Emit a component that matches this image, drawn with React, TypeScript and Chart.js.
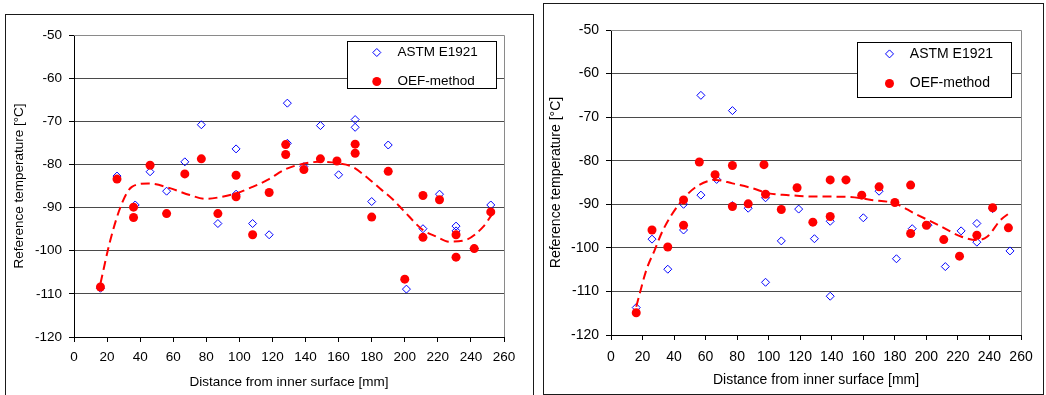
import React, { useEffect, useRef } from 'react';
import { Chart, registerables } from 'chart.js';

Chart.register(...registerables);

const FONT = '"Liberation Sans", Arial, Helvetica, sans-serif';
const BLUE = '#0000ff';
const RED = '#ff0000';

// Axis ticks
const xTickValues = [0, 20, 40, 60, 80, 100, 120, 140, 160, 180, 200, 220, 240, 260];
const yTickValues = [-120, -110, -100, -90, -80, -70, -60, -50];
const xTitle = 'Distance from inner surface [mm]';
const yTitle = 'Reference temperature [°C]';
const legendLabels = ['ASTM E1921', 'OEF-method'];

// ---- Left panel data ----
const leftAstmX = [16, 26, 37, 46, 56, 67, 77, 87, 98, 98, 108, 118, 129, 129, 139, 149, 160, 170, 170, 180, 190, 201, 211, 221, 231, 231, 242, 252];
const leftAstmY = [-108.7, -82.7, -89.4, -81.7, -86.2, -79.4, -70.8, -93.7, -76.4, -86.9, -93.7, -96.3, -65.8, -75.1, -80.5, -71.0, -82.4, -69.6, -71.4, -88.6, -75.5, -108.9, -94.9, -86.9, -94.3, -95.4, -99.5, -89.4];

const leftOefX = [16, 26, 36, 36, 46, 56, 67, 77, 87, 98, 98, 108, 118, 128, 128, 139, 149, 159, 170, 170, 180, 190, 200, 211, 211, 221, 231, 231, 242, 252];
const leftOefY = [-108.4, -83.4, -89.9, -92.3, -80.2, -91.4, -82.2, -78.7, -91.4, -82.5, -87.5, -96.3, -86.5, -75.4, -77.7, -81.2, -78.7, -79.2, -75.3, -77.4, -92.2, -81.6, -106.6, -87.2, -96.9, -88.2, -96.3, -101.5, -99.5, -91.0];

const leftTrendX = [16, 22, 29, 35, 45, 58, 70, 80, 88, 98, 108, 117, 128, 138, 148, 159, 168, 179, 186, 193, 199, 211, 219, 227, 237, 247.5, 252.5];
const leftTrendY = [-107.6, -97.5, -89.0, -85.2, -84.4, -85.5, -87.1, -88.0, -87.6, -86.7, -85.2, -83.6, -81.1, -79.9, -79.4, -79.7, -80.5, -83.6, -85.9, -88.2, -90.6, -95.2, -96.7, -97.9, -97.5, -94.4, -91.7];

// ---- Right panel data ----
const rightAstmX = [16, 26, 36, 46, 46, 57, 57, 67, 77, 77, 87, 98, 98, 108, 119, 129, 139, 139, 149, 160, 170, 181, 191, 201, 212, 222, 232, 232, 242, 253];
const rightAstmY = [-113.7, -98.0, -104.9, -90.0, -95.9, -65.0, -87.9, -84.3, -68.5, -90.3, -90.9, -88.5, -107.9, -98.4, -91.1, -97.9, -93.9, -111.1, -84.4, -93.1, -87.0, -102.5, -95.6, -94.8, -104.3, -96.1, -94.4, -98.7, -91.0, -100.7];

const rightOefX = [16, 26, 36, 46, 46, 56, 66, 77, 77, 87, 97, 98, 108, 118, 128, 139, 139, 149, 159, 170, 180, 190, 190, 200, 211, 221, 232, 242, 252];
const rightOefY = [-114.9, -95.9, -99.8, -89.0, -94.8, -80.3, -83.2, -81.1, -90.5, -89.9, -80.9, -87.7, -91.2, -86.2, -94.1, -84.4, -92.8, -84.4, -87.9, -86.0, -89.6, -85.6, -96.7, -94.8, -98.1, -101.9, -97.1, -90.8, -95.4];

const rightTrendX = [16, 22.5, 27.7, 33, 43.5, 54, 66.5, 77, 89.6, 100, 112.7, 125.3, 150.5, 165.2, 180, 192.5, 209.3, 221.9, 232.4, 238.7, 247, 252.3];
const rightTrendY = [-113.5, -105.0, -100.5, -95.9, -89.8, -86.0, -84.4, -85.2, -86.3, -87.5, -87.9, -88.2, -88.3, -89.0, -89.8, -92.1, -95.1, -97.4, -98.2, -97.4, -93.6, -92.1];

const pts = (xs: number[], ys: number[]) => xs.map((x, i) => ({ x, y: ys[i] }));

function drawDiamond(ctx: CanvasRenderingContext2D, x: number, y: number, r: number) {
  ctx.beginPath();
  ctx.moveTo(x - r, y);
  ctx.lineTo(x, y - r);
  ctx.lineTo(x + r, y);
  ctx.lineTo(x, y + r);
  ctx.closePath();
  ctx.strokeStyle = BLUE;
  ctx.lineWidth = 1;
  ctx.stroke();
}

const frameLegendPlugin = {
  id: 'frameLegend',
  afterDraw(chart: any, _args: any, opts: any) {
    const { ctx, chartArea: a } = chart;
    ctx.save();
    // gray plot-area frame (top + right)
    ctx.strokeStyle = '#8a8a8a';
    ctx.lineWidth = 1;
    const r = Math.round(a.right) + 0.5;
    const t = Math.round(a.top) + 0.5;
    ctx.beginPath();
    ctx.moveTo(a.left, t);
    ctx.lineTo(r, t);
    ctx.lineTo(r, a.bottom);
    ctx.stroke();

    const lg = opts.legend;
    const bx = Math.round(a.right - lg.right - lg.w) + 0.5;
    const by = Math.round(a.top + lg.top) + 0.5;
    ctx.fillStyle = '#ffffff';
    ctx.fillRect(bx, by, lg.w, lg.h);
    ctx.strokeStyle = '#000000';
    ctx.lineWidth = 1;
    ctx.strokeRect(bx, by, lg.w, lg.h);

    drawDiamond(ctx, bx + lg.mx, by + lg.y1, 4);
    ctx.beginPath();
    ctx.arc(bx + lg.mx, by + lg.y2, 4.5, 0, Math.PI * 2);
    ctx.fillStyle = RED;
    ctx.fill();

    ctx.fillStyle = '#000';
    ctx.font = `${lg.fs}px ${FONT}`;
    ctx.textBaseline = 'middle';
    ctx.textAlign = 'left';
    ctx.fillText(legendLabels[0], bx + lg.tx, by + lg.y1);
    ctx.fillText(legendLabels[1], bx + lg.tx, by + lg.y2);
    ctx.restore();
  },
};

type PanelCfg = {
  astm: { x: number; y: number }[];
  oef: { x: number; y: number }[];
  trend: { x: number; y: number }[];
  width: number;
  height: number;
  fs: number;
  padTop: number;
  padRight: number;
  yWidth: number;
  yTitlePad: number;
  xHeight: number;
  xTitlePad: number;
  xTickPad: number;
  legend: any;
};

function ChartPanel({ cfg, style }: { cfg: PanelCfg; style: React.CSSProperties }) {
  const ref = useRef<HTMLCanvasElement | null>(null);
  useEffect(() => {
    if (!ref.current) return;
    const font = { family: FONT, size: cfg.fs, lineHeight: 1.2 };
    const chart = new Chart(ref.current, {
      type: 'scatter',
      data: {
        datasets: [
          {
            label: 'trend',
            data: cfg.trend,
            showLine: true,
            pointRadius: 0,
            borderColor: RED,
            borderWidth: 2,
            borderDash: [9, 5],
            cubicInterpolationMode: 'monotone',
            order: 0,
          } as any,
          {
            label: legendLabels[1],
            data: cfg.oef,
            pointStyle: 'circle',
            pointRadius: 4.5,
            pointBackgroundColor: RED,
            pointBorderColor: RED,
            pointBorderWidth: 0,
            order: 1,
          },
          {
            label: legendLabels[0],
            data: cfg.astm,
            pointStyle: 'rectRot',
            pointRadius: 4,
            pointBackgroundColor: 'rgba(0,0,0,0)',
            pointBorderColor: BLUE,
            pointBorderWidth: 1,
            order: 2,
          },
        ],
      },
      options: {
        animation: false,
        responsive: false,
        devicePixelRatio: 1,
        layout: { padding: { top: cfg.padTop, right: cfg.padRight, left: 0, bottom: 0 } },
        plugins: {
          legend: { display: false },
          tooltip: { enabled: false },
          frameLegend: { legend: cfg.legend },
        } as any,
        scales: {
          x: {
            type: 'linear',
            min: 0,
            max: 260,
            afterBuildTicks: (s: any) => {
              s.ticks = xTickValues.map((v) => ({ value: v }));
            },
            afterFit: (s: any) => {
              s.height = cfg.xHeight;
            },
            ticks: { color: '#000', font, padding: cfg.xTickPad, maxRotation: 0, autoSkip: false },
            grid: { drawOnChartArea: false, drawTicks: true, tickLength: 5, tickColor: '#000', color: '#000' },
            border: { display: true, color: '#000', width: 1 },
            title: { display: true, text: xTitle, color: '#000', font, padding: { top: 0, bottom: cfg.xTitlePad } },
          },
          y: {
            type: 'linear',
            min: -120,
            max: -50,
            afterBuildTicks: (s: any) => {
              s.ticks = yTickValues.map((v) => ({ value: v }));
            },
            afterFit: (s: any) => {
              s.width = cfg.yWidth;
            },
            ticks: { color: '#000', font, padding: 7, autoSkip: false },
            grid: { drawOnChartArea: true, drawTicks: true, tickLength: 5, tickColor: '#000', color: '#4a4a4a', lineWidth: 1 },
            border: { display: true, color: '#000', width: 1 },
            title: { display: true, text: yTitle, color: '#000', font, padding: { top: cfg.yTitlePad, bottom: 0 } },
          },
        },
      },
      plugins: [frameLegendPlugin],
    } as any);
    return () => chart.destroy();
  }, [cfg]);
  return <canvas ref={ref} width={cfg.width} height={cfg.height} style={{ position: 'absolute', ...style, width: cfg.width, height: cfg.height }} />;
}

const leftCfg: PanelCfg = {
  astm: pts(leftAstmX, leftAstmY),
  oef: pts(leftOefX, leftOefY),
  trend: pts(leftTrendX, leftTrendY),
  width: 526,
  height: 380,
  fs: 13.5,
  padTop: 20,
  padRight: 28,
  yWidth: 68,
  yTitlePad: 5.4,
  xHeight: 58,
  xTitlePad: 4.9,
  xTickPad: 7.6,
  legend: { right: 8.3, top: 6.3, w: 149, h: 47, mx: 29.3, y1: 11, y2: 40, tx: 50, fs: 13.5 },
};

const rightCfg: PanelCfg = {
  astm: pts(rightAstmX, rightAstmY),
  oef: pts(rightOefX, rightOefY),
  trend: pts(rightTrendX, rightTrendY),
  width: 496,
  height: 388,
  fs: 14,
  padTop: 25,
  padRight: 17,
  yWidth: 66,
  yTitlePad: 2.6,
  xHeight: 58,
  xTitlePad: 4.8,
  xTickPad: 8.3,
  legend: { right: 9.7, top: 12.3, w: 154, h: 55, mx: 32, y1: 11.4, y2: 41, tx: 52.3, fs: 14 },
};

export default function App() {
  return (
    <div style={{ position: 'absolute', left: 0, top: 0, width: 1046, height: 395, background: '#fff', overflow: 'hidden' }}>
      <div style={{ position: 'absolute', left: 5, top: 14, width: 529, height: 381, boxSizing: 'border-box', border: '1px solid #1a1a1a', borderBottom: 'none' }} />
      <div style={{ position: 'absolute', left: 543, top: 3, width: 501, height: 392, boxSizing: 'border-box', border: '1px solid #1a1a1a' }} />
      <ChartPanel cfg={leftCfg} style={{ left: 6, top: 15 }} />
      <ChartPanel cfg={rightCfg} style={{ left: 545, top: 5 }} />
    </div>
  );
}
